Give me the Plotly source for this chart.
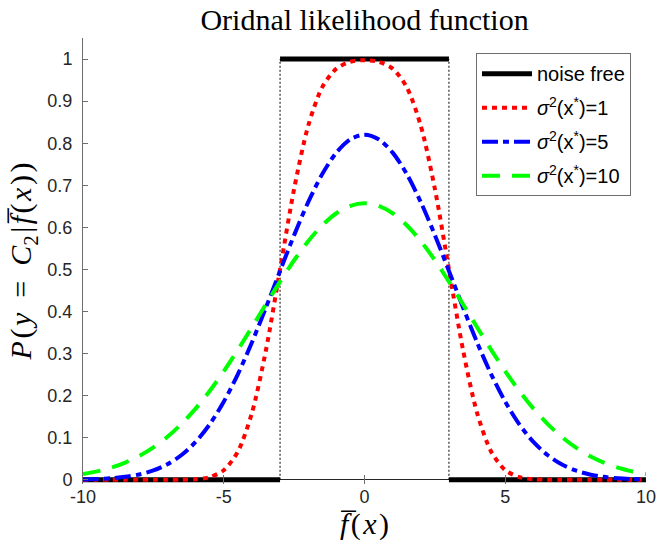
import plotly.graph_objects as go

# ---- data ----
x_vals = [-10, -9.5, -9, -8.5, -8, -7.5, -7, -6.5, -6, -5.5, -5, -4.5, -4, -3.5, -3,
          -2.5, -2, -1.5, -1, -0.5, 0, 0.5, 1, 1.5, 2, 2.5, 3, 3.5, 4, 4.5, 5,
          5.5, 6, 6.5, 7, 7.5, 8, 8.5, 9, 9.5, 10]

p_sigma1 = [0, 0, 0, 0, 0, 0, 0.0000, 0.0002, 0.0013, 0.0062, 0.0228, 0.0668, 0.1587,
            0.3085, 0.5000, 0.6915, 0.8413, 0.9332, 0.9772, 0.9936, 0.9973, 0.9936,
            0.9772, 0.9332, 0.8413, 0.6915, 0.5000, 0.3085, 0.1587, 0.0668, 0.0228,
            0.0062, 0.0013, 0.0002, 0, 0, 0, 0, 0, 0, 0]

p_sigma5 = [0.0009, 0.0018, 0.0036, 0.0070, 0.0127, 0.0221, 0.0368, 0.0588, 0.0899,
            0.1317, 0.1854, 0.2508, 0.3265, 0.4097, 0.4964, 0.5815, 0.6600, 0.7268,
            0.7776, 0.8094, 0.8203, 0.8094, 0.7776, 0.7268, 0.6600, 0.5815, 0.4964,
            0.4097, 0.3265, 0.2508, 0.1854, 0.1317, 0.0899, 0.0588, 0.0368, 0.0221,
            0.0127, 0.0070, 0.0036, 0.0018, 0.0009]

p_sigma10 = [0.0134, 0.0199, 0.0288, 0.0409, 0.0567, 0.0769, 0.1022, 0.1329, 0.1692,
             0.2110, 0.2579, 0.3088, 0.3625, 0.4173, 0.4711, 0.5218, 0.5672, 0.6050,
             0.6335, 0.6512, 0.6572, 0.6512, 0.6335, 0.6050, 0.5672, 0.5218, 0.4711,
             0.4173, 0.3625, 0.3088, 0.2579, 0.2110, 0.1692, 0.1329, 0.1022, 0.0769,
             0.0567, 0.0409, 0.0288, 0.0199, 0.0134]

noise_x = [-10, -3, None, -3, 3, None, 3, 10]
noise_y = [0, 0, None, 1, 1, None, 0, 0]
edge_x = [-3, -3, None, 3, 3]
edge_y = [0, 1, None, 0, 1]

x_ticks = [-10, -5, 0, 5, 10]
y_ticks = [0, 0.1, 0.2, 0.3, 0.4, 0.5, 0.6, 0.7, 0.8, 0.9, 1]
y_ticklabels = ["0", "0.1", "0.2", "0.3", "0.4", "0.5", "0.6", "0.7", "0.8", "0.9", "1"]

names = ["noise free",
         "<i>σ</i><sup>2</sup>(x<sup>*</sup>)=1",
         "<i>σ</i><sup>2</sup>(x<sup>*</sup>)=5",
         "<i>σ</i><sup>2</sup>(x<sup>*</sup>)=10"]

fig = go.Figure()

fig.add_trace(go.Scatter(x=edge_x, y=edge_y, mode="lines", showlegend=False,
                         line=dict(color="black", width=1, dash="2px,2px"),
                         hoverinfo="skip"))
fig.add_trace(go.Scatter(x=noise_x, y=noise_y, mode="lines", name=names[0],
                         legendgroup="a",
                         line=dict(color="black", width=5)))
fig.add_trace(go.Scatter(x=x_vals, y=p_sigma1, mode="lines", name=names[1],
                         legendgroup="b",
                         line=dict(color="#ff0000", width=4, dash="5px,5px",
                                   shape="spline", smoothing=0.8)))
fig.add_trace(go.Scatter(x=x_vals, y=p_sigma5, mode="lines", name=names[2],
                         legendgroup="c",
                         line=dict(color="#0000ff", width=4, dash="16px,5px,6px,5px",
                                   shape="spline", smoothing=0.8)))
fig.add_trace(go.Scatter(x=x_vals, y=p_sigma10, mode="lines", name=names[3],
                         legendgroup="d",
                         line=dict(color="#00ff00", width=4, dash="18px,12px",
                                   shape="spline", smoothing=0.8)))

axis_color = "#6e6e6e"
tick_font = dict(family="Liberation Sans, Arial, sans-serif", size=18, color="#262626")
serif = "Liberation Serif, DejaVu Serif, serif"
hs = "\u200a"  # hair space to mimic the wider LaTeX math spacing
y_title = ("<i>P</i>" + hs + "(" + hs + "<i>y</i>\u2002=\u2002<i>C</i><sub>2</sub>" + hs + "|"
           + hs + "<i>f̅</i>" + hs + "(" + hs + "<i>x</i>" + hs + ")" + hs + ")")
x_title = "<i>f̅</i>" + hs + "(" + hs + "<i>x</i>" + hs + ")"

fig.update_layout(
    width=658, height=544,
    margin=dict(l=83, r=12, t=38, b=60),
    plot_bgcolor="white", paper_bgcolor="white",
    title=dict(text="Oridnal likelihood function", x=0.5540, xanchor="center",
               y=0.965, yanchor="middle", yref="container",
               font=dict(family=serif, size=30, color="black")),
    xaxis=dict(range=[-10, 10], tickvals=x_ticks, ticktext=[str(v) for v in x_ticks],
               ticks="inside", ticklen=9, tickcolor=axis_color, showline=False,
               showgrid=False, zeroline=False, tickfont=tick_font, automargin=False,
               ticklabeloverflow="allow",
               title=dict(text=x_title, standoff=0,
                          font=dict(family=serif, size=30, color="black"))),
    yaxis=dict(range=[-0.01, 1.05], tickvals=y_ticks, ticktext=y_ticklabels,
               ticks="inside", ticklen=5, tickcolor=axis_color, showline=True,
               linecolor=axis_color, linewidth=1, showgrid=False,
               zeroline=True, zerolinecolor="#262626", zerolinewidth=1,
               tickfont=tick_font, ticklabelstandoff=6, automargin=False,
               title=dict(text=y_title, standoff=6,
                          font=dict(family=serif, size=30, color="black"))),
    legend=dict(x=0.698, y=0.966, xanchor="left", yanchor="top",
                bordercolor="#6e6e6e", borderwidth=1, bgcolor="white",
                traceorder="grouped", tracegroupgap=5, itemwidth=50,
                font=dict(family="Liberation Sans, Arial, sans-serif", size=20,
                          color="black")),
)

fig.write_html("out.html",
               config={"displayModeBar": False},
               post_script="document.body.style.margin='0';"
                           "document.body.style.overflow='hidden';")
